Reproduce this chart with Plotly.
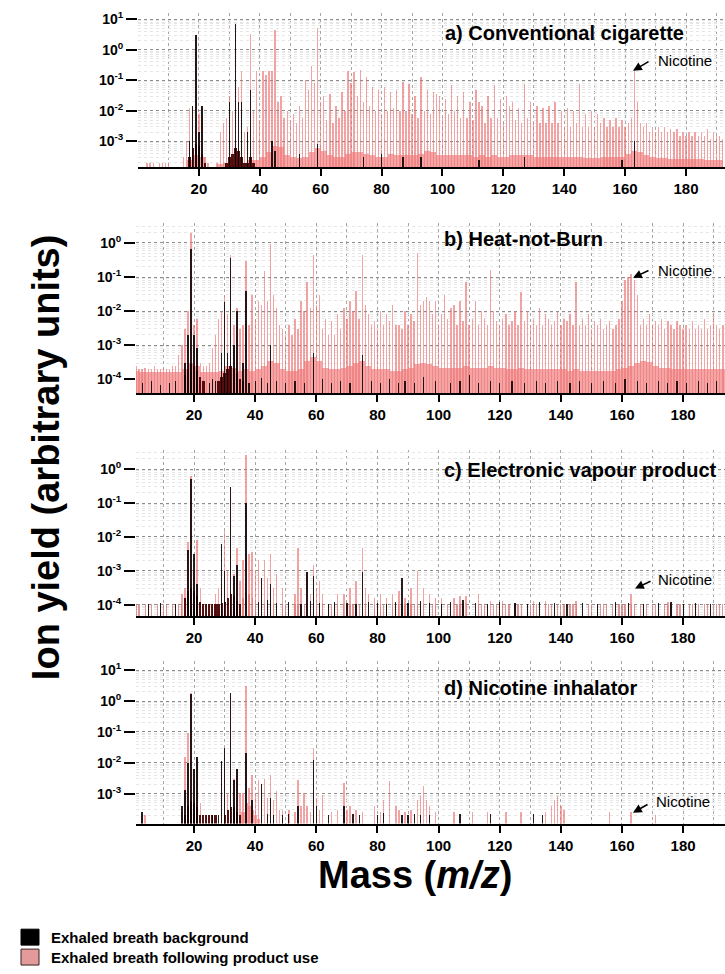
import plotly.graph_objects as go

# ---------------- DATA (ion yield, arbitrary units) ----------------
# Panel a) Conventional cigarette: product-use spectrum, one value per integer m/z from 1
A_PINK = [
    0, 0, 2e-4, 2e-4, 2e-4, 0, 2e-4, 2e-4, 2e-4, 2e-4,
    0, 0, 0, 0, 3e-4, 1e-3, 0.012, 0.015, 3.0, 0.008,
    0.015, 3e-4, 2e-4, 0, 0, 2e-4, 2e-3, 4e-3, 6e-3, 0.03,
    0.01, 6.5, 0.06, 0.2, 2e-3, 3e-3, 3.2, 0.01, 0.2, 0.005,
    0.2, 0.15, 0.2, 0.2, 4.5, 0.02, 0.03, 0.006, 0.01, 0.005,
    0.008, 0.004, 0.015, 0.006, 0.1, 0.05, 0.3, 0.08, 5.0, 0.02,
    0.03, 0.005, 0.035, 0.004, 0.015, 0.006, 0.04, 0.01, 0.2, 0.08,
    0.18, 0.03, 0.22, 0.02, 0.13, 0.015, 0.06, 0.01, 0.05, 0.008,
    0.06, 0.01, 0.04, 0.012, 0.05, 0.01, 0.09, 0.01, 0.075, 0.008,
    0.03, 0.006, 0.125, 0.01, 0.05, 0.008, 0.04, 0.035, 0.03, 0.006,
    0.025, 0.008, 0.07, 0.01, 0.03, 0.006, 0.04, 0.006, 0.02, 0.005,
    0.05, 0.02, 0.015, 0.004, 0.03, 0.006, 0.07, 0.006, 0.025, 0.004,
    0.03, 0.015, 0.02, 0.005, 0.012, 0.004, 0.075, 0.006, 0.02, 0.004,
    0.015, 0.004, 0.012, 0.004, 0.015, 0.004, 0.02, 0.004, 0.01, 0.003,
    0.012, 0.003, 0.01, 0.004, 0.075, 0.003, 0.008, 0.003, 0.01, 0.003,
    0.008, 0.004, 0.006, 0.003, 0.005, 0.003, 0.006, 0.003, 0.005, 0.003,
    0.004, 0.006, 0.23, 0.02, 0.004, 0.003, 0.004, 0.002, 0.003, 0.002,
    0.003, 0.002, 0.003, 0.002, 0.0025, 0.002, 0.0025, 0.0015, 0.002, 0.0015,
    0.002, 0.0015, 0.002, 0.0015, 0.002, 0.0015, 0.0025, 0.0012, 0.002, 0.0015,
    0.0015, 0.0012,
]
# unresolved product-use background, 2-m/z bins starting at m/z 0
A_FLOOR = [
    0, 0, 0, 0, 0, 0, 0, 0,
    2.5e-4, 3.5e-4, 3e-4, 0, 0, 1.8e-4, 2e-4, 2.5e-4, 3e-4, 2e-4, 2.5e-4, 2.5e-4,
    3e-4, 4.5e-4, 7e-4, 6.5e-4, 3.5e-4, 3e-4, 2.8e-4, 3e-4, 4.5e-4, 6e-4,
    5e-4, 3.5e-4, 3e-4, 3e-4, 4e-4, 4.5e-4, 4.5e-4, 4e-4, 3.5e-4, 3e-4,
    3e-4, 4e-4, 3.5e-4, 3.5e-4, 3.5e-4, 3.5e-4, 4e-4, 5e-4, 4.5e-4, 3.5e-4,
    3.5e-4, 3.5e-4, 3.5e-4, 3.5e-4, 3.5e-4, 3e-4, 3.5e-4, 3e-4, 3.5e-4, 3e-4,
    3e-4, 3.5e-4, 3.5e-4, 3.5e-4, 3.5e-4, 3e-4, 3e-4, 3e-4, 3e-4, 3e-4,
    3e-4, 3e-4, 3e-4, 2.8e-4, 2.8e-4, 2.8e-4, 3e-4, 3e-4, 3e-4, 3.2e-4,
    4e-4, 5e-4, 4.5e-4, 3.5e-4, 3e-4, 2.8e-4, 2.8e-4, 2.7e-4, 2.7e-4, 2.6e-4,
    2.6e-4, 2.6e-4, 2.6e-4, 2.5e-4, 2.5e-4, 2.5e-4,
]
A_BLACK_MZ = [17, 18, 19, 20, 21, 30, 32, 33, 34, 36, 37, 44, 45, 53, 59, 74, 80, 87, 93, 112, 127, 159, 163]
A_BLACK = [1e-3, 0.015, 3.0, 2e-3, 0.015, 0.02, 7.0, 0.02, 0.02, 2e-3, 0.05, 1e-3, 5e-4, 4e-4, 8e-4,
           3e-4, 4e-4, 3e-4, 3e-4, 2.5e-4, 3e-4, 2.5e-4, 1e-3]
A_BLACK_FLOOR_MZ = [17, 18, 19, 20, 21, 22, 29, 30, 31, 32, 33, 34, 35, 36, 37, 38]
A_BLACK_FLOOR = [3e-4, 6e-4, 8e-4, 7e-4, 4e-4, 2e-4, 2e-4, 3e-4, 4e-4, 6e-4, 5e-4, 3e-4, 2e-4, 2e-4, 3e-4, 2e-4]

# Panel b) Heat-not-Burn
B_PINK = [
    2.5e-4, 2e-4, 2e-4, 2.2e-4, 2e-4, 2e-4, 2.5e-4, 2e-4, 2e-4, 2.2e-4,
    2e-4, 2e-4, 2.5e-4, 2.5e-4, 5e-4, 1e-3, 3e-3, 0.01, 2.0, 0.004,
    0.006, 3e-4, 2.5e-4, 2.5e-4, 3e-4, 8e-4, 0.002, 0.006, 0.01, 0.03,
    0.008, 0.45, 0.004, 0.012, 0.003, 0.004, 0.3, 0.004, 0.03, 0.006,
    0.02, 0.015, 0.15, 0.02, 0.9, 0.03, 0.012, 0.004, 0.003, 0.002,
    0.004, 0.002, 0.006, 0.003, 0.02, 0.01, 0.07, 0.012, 0.45, 0.015,
    0.03, 0.003, 0.006, 0.002, 0.005, 0.002, 0.008, 0.003, 0.012, 0.006,
    0.02, 0.01, 0.04, 0.006, 0.45, 0.015, 0.008, 0.004, 0.005, 0.003,
    0.01, 0.004, 0.008, 0.005, 0.015, 0.004, 0.004, 0.003, 0.01, 0.004,
    0.008, 0.005, 0.5, 0.015, 0.02, 0.025, 0.02, 0.008, 0.02, 0.004,
    0.008, 0.03, 0.006, 0.012, 0.015, 0.004, 0.02, 0.005, 0.07, 0.004,
    0.006, 0.02, 0.004, 0.01, 0.006, 0.004, 0.16, 0.01, 0.005, 0.004,
    0.006, 0.008, 0.004, 0.005, 0.01, 0.004, 0.035, 0.005, 0.01, 0.004,
    0.006, 0.004, 0.012, 0.004, 0.008, 0.006, 0.004, 0.005, 0.01, 0.004,
    0.006, 0.005, 0.008, 0.004, 0.07, 0.004, 0.006, 0.004, 0.008, 0.003,
    0.005, 0.004, 0.006, 0.003, 0.004, 0.005, 0.003, 0.004, 0.006, 0.02,
    0.08, 0.1, 0.12, 0.08, 0.03, 0.004, 0.006, 0.004, 0.008, 0.004,
    0.005, 0.004, 0.006, 0.003, 0.005, 0.004, 0.003, 0.005, 0.004, 0.003,
    0.004, 0.003, 0.005, 0.003, 0.004, 0.003, 0.006, 0.003, 0.004, 0.008,
    0.004, 0.003, 0.004,
]
B_FLOOR = [
    1.8e-4, 1.6e-4, 1.6e-4, 1.6e-4, 1.6e-4, 1.6e-4, 1.6e-4, 1.6e-4,
    2e-4, 3e-4, 2.5e-4, 1.6e-4, 1.6e-4, 1.6e-4, 1.8e-4, 2.5e-4, 2.2e-4, 1.8e-4, 2e-4, 1.8e-4,
    2e-4, 2.5e-4, 3.5e-4, 3e-4, 2e-4, 1.8e-4, 1.8e-4, 2e-4, 3.5e-4, 4.5e-4,
    3.5e-4, 2.2e-4, 2e-4, 2e-4, 2.2e-4, 2.5e-4, 3e-4, 3.5e-4, 2.5e-4, 2e-4,
    2e-4, 2e-4, 1.8e-4, 1.8e-4, 2e-4, 2.2e-4, 2.8e-4, 3e-4, 2.8e-4, 2.5e-4,
    2.2e-4, 2.2e-4, 2.2e-4, 2.2e-4, 2.5e-4, 2.2e-4, 2.2e-4, 2.2e-4, 2.5e-4, 2.2e-4,
    2.2e-4, 2e-4, 2e-4, 2.2e-4, 2e-4, 2e-4, 2e-4, 2e-4, 2e-4, 2e-4,
    2e-4, 1.8e-4, 2e-4, 1.8e-4, 1.8e-4, 1.8e-4, 1.8e-4, 1.8e-4, 1.8e-4, 2e-4,
    2.2e-4, 2.5e-4, 3e-4, 3.5e-4, 3.2e-4, 2.5e-4, 2.2e-4, 2.2e-4, 2e-4, 2e-4,
    2e-4, 2e-4, 2e-4, 2e-4, 2e-4, 2e-4, 2e-4,
]
B_BLACK_MZ = [17, 18, 19, 20, 21, 29, 30, 31, 32, 33, 34, 36, 37, 45, 59, 75]
B_BLACK = [3e-4, 2e-3, 0.65, 2e-3, 8e-4, 6e-4, 0.018, 6e-4, 0.35, 1e-3, 0.01, 3e-4, 0.04, 1e-3, 6e-4, 5e-4]
B_BLACK_FLOOR_MZ = [17, 18, 19, 20, 21, 22, 23, 28, 29, 30, 31, 32, 33, 34, 35, 36]
B_BLACK_FLOOR = [1.3e-4, 2e-4, 2.8e-4, 2.5e-4, 1.8e-4, 1.2e-4, 9e-5, 9e-5, 1.2e-4, 1.5e-4, 2e-4, 2.5e-4,
                 2e-4, 1.5e-4, 1e-4, 9e-5]
B_BLACK_COMB_MZ = [3, 6, 9, 12, 14, 25, 26, 27, 38, 40, 42, 44, 47, 50, 53, 56, 62, 65, 68, 71, 78, 81,
                   84, 87, 89, 92, 95, 99, 104, 107, 110, 113, 117, 120, 124, 128, 132, 135, 139, 143,
                   146, 150, 154, 158, 161, 165, 168, 172, 175, 178, 181, 185, 188, 191]
B_BLACK_COMB = [8e-5, 9e-5, 7e-5, 8e-5, 9e-5, 8e-5, 1e-4, 9e-5, 8e-5, 9e-5, 1.1e-4, 8e-5, 9e-5, 8e-5,
                9e-5, 8e-5, 1e-4, 8e-5, 9e-5, 8e-5, 9e-5, 8e-5, 1e-4, 8e-5, 9e-5, 8e-5, 1.2e-4, 9e-5,
                8e-5, 9e-5, 1.3e-4, 8e-5, 9e-5, 8e-5, 9e-5, 8e-5, 9e-5, 8e-5, 9e-5, 8e-5, 9e-5, 8e-5,
                9e-5, 8e-5, 1e-4, 9e-5, 8e-5, 9e-5, 8e-5, 9e-5, 8e-5, 9e-5, 8e-5, 9e-5]

# Panel c) Electronic vapour product
C_PINK_MZ = [16, 17, 18, 19, 20, 21, 22,
             27, 28, 29, 30, 31, 32, 33, 34, 35, 36, 37, 38, 39, 40,
             41, 42, 43, 44, 45, 46, 47,
             49, 53, 54, 55, 57, 58, 59, 60, 61, 62,
             67, 69, 71, 73, 75, 76, 77, 79,
             81, 83, 85, 87, 89, 91, 93, 95, 97, 99,
             101, 105, 107, 109, 113, 117, 121,
             131, 135, 145, 163, 175]
C_PINK = [2e-4, 3e-4, 0.007, 0.6, 1e-3, 0.008, 3e-4,
          2e-4, 3e-4, 4e-4, 0.015, 1e-3, 0.3, 8e-4, 4.5e-3, 5e-4, 2e-3, 2.5, 3e-3, 3.6e-3, 1e-3,
          2e-3, 6e-4, 2e-3, 6e-4, 3e-3, 3e-4, 8e-4,
          3e-4, 2e-4, 4.5e-3, 3e-4, 8.5e-4, 2e-4, 1.5e-3, 3e-4, 5e-4, 2e-4,
          2e-4, 2e-4, 3e-4, 5e-4, 4.5e-3, 3e-4, 2e-4, 1.5e-4,
          2e-4, 1.5e-4, 2e-4, 2.5e-4, 1.5e-4, 3e-4, 1e-3, 3e-4, 2e-4, 1.5e-4,
          1.5e-4, 1.5e-4, 1.8e-4, 1.8e-4, 2e-4, 1.3e-4, 1.3e-4,
          1.3e-4, 1.3e-4, 1.3e-4, 2e-4, 1.2e-4]
C_FLOOR = [
    1e-4, 1e-4, 0, 1e-4, 1e-4, 1e-4, 0, 1e-4, 1e-4, 1e-4,
    1e-4, 0, 1e-4, 1e-4, 1e-4, 1e-4, 1.2e-4, 1.5e-4, 2e-4, 1.5e-4,
    1.2e-4, 1e-4, 1e-4, 1e-4, 1e-4, 1e-4, 1e-4, 1e-4, 1e-4, 1.1e-4,
    1.2e-4, 1.3e-4, 1.2e-4, 1.1e-4, 1e-4, 1.5e-4, 2.3e-4, 2e-4, 1.5e-4, 1.1e-4,
    1e-4, 1e-4, 1e-4, 1e-4, 1.1e-4, 1e-4, 1e-4, 0, 1e-4, 1e-4,
    1e-4, 0, 1e-4, 1e-4, 1e-4, 1e-4, 1e-4, 1e-4, 1.1e-4, 1e-4,
    1e-4, 1e-4, 0, 1e-4, 1e-4, 1e-4, 1e-4, 0, 1e-4, 1e-4,
    1e-4, 1e-4, 1e-4, 1e-4, 1.1e-4, 1e-4, 1e-4, 0, 1e-4, 1e-4,
    1e-4, 1e-4, 1e-4, 0, 1e-4, 1e-4, 1e-4, 1e-4, 1e-4, 0,
    1e-4, 1e-4, 1e-4, 1e-4, 1e-4, 0, 1e-4, 1e-4, 1e-4, 0,
    1e-4, 0, 1e-4, 1e-4, 0, 1e-4, 1e-4, 1e-4, 1e-4, 0,
    0, 0, 1e-4, 1e-4, 1e-4, 1e-4, 0, 1e-4, 1e-4, 1e-4,
    1e-4, 1e-4, 1e-4, 0, 1e-4, 1e-4, 1e-4, 0, 1e-4, 1e-4,
    1e-4, 1e-4, 0, 0, 1e-4, 1e-4, 1e-4, 0, 1e-4, 1e-4,
    1e-4, 0, 1e-4, 1e-4, 1e-4, 0, 0, 0, 1e-4, 1e-4,
    0, 1e-4, 1e-4, 1e-4, 1e-4, 0, 1e-4, 1e-4, 1e-4, 1e-4,
    1e-4, 1e-4, 1e-4, 1e-4, 0, 1e-4, 1e-4, 1e-4, 0, 1e-4,
    1e-4, 1e-4, 0, 1e-4, 1e-4, 1e-4, 0, 1e-4, 1e-4, 1e-4,
    0, 1e-4, 1e-4, 1e-4, 1e-4, 0, 1e-4, 1e-4, 1e-4, 1e-4,
    1e-4, 1e-4, 1e-4,
]
C_BLACK_MZ = [18, 19, 20, 21, 29, 30, 32, 33, 34, 37, 42, 45, 57, 59, 75, 88]
C_BLACK = [4e-3, 0.5, 3e-3, 4e-4, 6e-3, 1e-3, 0.3, 7e-4, 1.5e-3, 0.1, 6e-4, 4e-4, 9e-4, 7e-4, 9e-4, 6e-4]
C_BLACK_FLOOR_MZ = [17, 18, 19, 20, 21, 22, 23, 24, 25, 26, 27, 28, 29, 30, 31, 32, 33, 34, 35]
C_BLACK_FLOOR = [1.5e-4, 2.5e-4, 3e-4, 2.5e-4, 1.8e-4, 1.2e-4, 1e-4, 1e-4, 1e-4, 1e-4, 1e-4, 1e-4,
                 1.1e-4, 1.2e-4, 1.5e-4, 2e-4, 1.8e-4, 1.3e-4, 1e-4]
C_BLACK_COMB_MZ = [5, 9, 14, 41, 44, 47, 51, 55, 58, 61, 64, 66, 70, 73, 77, 80, 83, 86, 90, 94, 97,
                   101, 104, 108, 112, 116, 120, 125, 129, 133, 138, 142, 147, 152, 158, 162, 167,
                   172, 176, 180, 184, 189]
C_BLACK_COMB = [1e-4, 1.1e-4, 1e-4, 1.2e-4, 1.4e-4, 1.1e-4, 1.2e-4, 1e-4, 1.3e-4, 1.1e-4, 1e-4,
                1.2e-4, 1.1e-4, 1e-4, 1.2e-4, 1.1e-4, 1e-4, 1.2e-4, 1.1e-4, 1.3e-4, 1.1e-4, 1e-4,
                1.2e-4, 1.4e-4, 1.1e-4, 1e-4, 1.2e-4, 1.1e-4, 1e-4, 1.2e-4, 1.1e-4, 1e-4, 1.1e-4,
                1e-4, 1.2e-4, 1.1e-4, 1e-4, 1.1e-4, 1.2e-4, 1e-4, 1.1e-4, 1e-4]

# Panel d) Nicotine inhalator
D_PINK_MZ = [3, 4,
             16, 17, 18, 19, 20, 21, 22,
             29, 30, 31, 32, 33, 34, 35, 36, 37, 38, 39, 40, 41, 42, 43, 44, 45, 46, 47, 48, 49,
             51,
             53, 54, 55, 56, 57, 58, 59, 60, 61, 62,
             65, 67, 69, 70, 71, 73, 75,
             79, 81, 82, 84, 86, 87, 89,
             91, 93, 94, 95, 96, 97, 99,
             105, 111, 116, 122, 127, 135,
             137, 138, 139, 140, 141,
             156, 163, 171]
D_PINK = [2e-4, 2e-4,
          2.5e-4, 0.015, 0.09, 1.8, 6e-3, 0.015, 5e-4,
          0.01, 0.03, 1e-3, 1.8, 3e-3, 6e-3, 1e-3, 1e-3, 3.0, 1.5e-3, 4e-3, 1e-3, 2.8e-3, 2e-3, 3e-3,
          7e-4, 4e-3, 6e-4, 1.2e-3, 3e-4, 3e-4,
          3e-4,
          2.5e-4, 2.7e-3, 4e-4, 1e-3, 4e-4, 2.5e-4, 0.03, 7e-4, 3e-4, 9e-4,
          2.5e-4, 3e-4, 2.2e-3, 3e-4, 4e-4, 3e-4, 2.5e-4,
          4e-4, 2.5e-4, 6e-4, 2.6e-3, 4e-4, 3e-4, 2.5e-4,
          3e-4, 6e-4, 8e-4, 1.8e-3, 6e-4, 4e-4, 2.5e-4,
          2.5e-4, 2.5e-4, 2.5e-4, 2.5e-4, 2.5e-4, 2.5e-4,
          4e-4, 6e-4, 8e-4, 4e-4, 3e-4,
          2.5e-4, 2.5e-4, 2e-4]
D_PINK_FLOOR_MZ = [36, 37, 38, 39, 40, 41]
D_PINK_FLOOR = [2.5e-4, 5e-4, 4e-4, 3e-4, 2e-4, 1.5e-4]
D_BLACK_MZ = [3, 16, 17, 18, 19, 20, 21, 29, 30, 32, 33, 34, 37, 39, 42, 45, 54, 59, 60, 69]
D_BLACK = [2.5e-4, 4e-4, 1.3e-3, 0.01, 1.7, 6e-3, 0.015, 0.011, 0.03, 1.8, 2.7e-3, 6e-3, 0.02, 6e-4,
           2e-3, 7e-4, 4e-4, 0.012, 4e-4, 4e-4]
D_BLACK_FLOOR_MZ = [17, 18, 19, 20, 21, 22, 23, 24, 25, 26, 27, 30, 31, 32, 33, 34, 35]
D_BLACK_FLOOR = [2e-4, 4e-4, 5.5e-4, 5e-4, 3.5e-4, 2e-4, 2e-4, 2e-4, 2e-4, 2e-4, 2e-4, 2e-4, 3e-4,
                 3.7e-4, 3.5e-4, 2.5e-4, 2e-4]
D_BLACK_COMB_MZ = [26, 28, 44, 46, 49, 51, 64, 72, 74, 80, 82, 88, 90, 92, 94, 97, 107, 117, 131, 134]
D_BLACK_COMB = [2e-4, 2e-4, 2.2e-4, 2e-4, 2e-4, 2.2e-4, 2e-4, 2.2e-4, 2e-4, 2e-4, 2.3e-4, 2e-4, 2e-4,
                2.2e-4, 2e-4, 2e-4, 2.2e-4, 2.2e-4, 2.2e-4, 2e-4]

X_TICKS = [20, 40, 60, 80, 100, 120, 140, 160, 180]
X_MINOR = [10, 30, 50, 70, 90, 110, 130, 150, 170, 190]
TITLES = ["a) Conventional cigarette", "b) Heat-not-Burn", "c) Electronic vapour product", "d) Nicotine inhalator"]

# ---------------- FIGURE ----------------
W, H = 725, 974
FONT = "Liberation Sans, Arial, sans-serif"
PINK_PEAK = "rgba(235,115,115,0.65)"
PINK_FLOOR = "#F5A5A5"
PINK_COMB = "rgba(205,120,120,0.75)"
BLACK_PEAK = "rgba(10,0,0,0.88)"
BLACK_FLOOR = "rgba(70,0,0,0.92)"


def fx(p):
    return p / W


def fy(p):
    return 1 - p / H


fig = go.Figure()


def add_bars(xs, ys, width, color, n):
    pts = [(m, v) for m, v in zip(xs, ys) if v > 0]
    fig.add_trace(go.Bar(
        x=[p[0] for p in pts], y=[p[1] for p in pts], width=width,
        marker=dict(color=color, line=dict(width=0)),
        xaxis="x" + n, yaxis="y" + n, showlegend=False, hoverinfo="skip"))


def bins(vals):
    return [2 * i + 1 for i in range(len(vals))]


def ints(vals):
    return list(range(1, len(vals) + 1))


# panel a
add_bars(bins(A_FLOOR), A_FLOOR, 2, PINK_FLOOR, "")
add_bars(ints(A_PINK), A_PINK, 0.45, PINK_PEAK, "")
add_bars(A_BLACK_FLOOR_MZ, A_BLACK_FLOOR, 0.85, BLACK_FLOOR, "")
add_bars(A_BLACK_MZ, A_BLACK, 0.45, BLACK_PEAK, "")
# panel b
add_bars(bins(B_FLOOR), B_FLOOR, 2, PINK_FLOOR, "2")
add_bars(ints(B_PINK), B_PINK, 0.45, PINK_PEAK, "2")
add_bars(B_BLACK_FLOOR_MZ, B_BLACK_FLOOR, 0.85, BLACK_FLOOR, "2")
add_bars(B_BLACK_COMB_MZ, B_BLACK_COMB, 0.4, BLACK_PEAK, "2")
add_bars(B_BLACK_MZ, B_BLACK, 0.45, BLACK_PEAK, "2")
# panel c
add_bars(ints(C_FLOOR), C_FLOOR, 0.4, PINK_COMB, "3")
add_bars(C_PINK_MZ, C_PINK, 0.45, PINK_PEAK, "3")
add_bars(C_BLACK_FLOOR_MZ, C_BLACK_FLOOR, 0.7, BLACK_FLOOR, "3")
add_bars(C_BLACK_COMB_MZ, C_BLACK_COMB, 0.4, BLACK_PEAK, "3")
add_bars(C_BLACK_MZ, C_BLACK, 0.45, BLACK_PEAK, "3")
# panel d
add_bars(D_PINK_FLOOR_MZ, D_PINK_FLOOR, 1.0, PINK_FLOOR, "4")
add_bars(D_PINK_MZ, D_PINK, 0.45, PINK_PEAK, "4")
add_bars(D_BLACK_FLOOR_MZ, D_BLACK_FLOOR, 0.7, BLACK_FLOOR, "4")
add_bars(D_BLACK_COMB_MZ, D_BLACK_COMB, 0.4, BLACK_PEAK, "4")
add_bars(D_BLACK_MZ, D_BLACK, 0.45, BLACK_PEAK, "4")

# axes geometry (pixels): x-domain, x-range, y-domain, log y-range, decade ticks
PANEL_AX = [
    dict(xd=(138, 725), xr=[0, 192.8], yd=(9, 164), yr=[-3.846, 1.2], dec=[1, 0, -1, -2, -3]),
    dict(xd=(136, 725), xr=[1.0, 193.7], yd=(220, 391), yr=[-4.41, 0.58], dec=[0, -1, -2, -3, -4]),
    dict(xd=(136, 725), xr=[1.0, 193.7], yd=(448, 615), yr=[-4.35, 0.56], dec=[0, -1, -2, -3, -4]),
    dict(xd=(136, 725), xr=[1.0, 193.7], yd=(660, 823), yr=[-3.97, 1.29], dec=[1, 0, -1, -2, -3]),
]
layout = dict(
    width=W, height=H, margin=dict(l=0, r=0, t=0, b=0),
    paper_bgcolor="white", plot_bgcolor="white",
    barmode="overlay", bargap=0, showlegend=False,
    font=dict(family=FONT, color="black"),
)
for i, p in enumerate(PANEL_AX):
    n = "" if i == 0 else str(i + 1)
    layout["xaxis" + n] = dict(
        domain=[fx(p["xd"][0]), fx(p["xd"][1])], range=p["xr"], anchor="y" + n,
        tickmode="array", tickvals=X_TICKS, ticks="outside", ticklen=7, tickwidth=2, tickcolor="black",
        showline=True, linecolor="black", linewidth=2, zeroline=False,
        showgrid=True, gridcolor="#a6a6a6", griddash="dot", gridwidth=1,
        minor=dict(tickvals=X_MINOR, showgrid=True, gridcolor="#a6a6a6", griddash="dot", ticks=""),
        tickfont=dict(family=FONT, size=15, color="black", weight="bold"),
    )
    layout["yaxis" + n] = dict(
        domain=[fy(p["yd"][1]), fy(p["yd"][0])], range=p["yr"], type="log", anchor="x" + n,
        tickmode="array", tickvals=[10.0 ** d for d in p["dec"]],
        ticktext=["10<sup>%d</sup>" % d for d in p["dec"]],
        ticks="outside", ticklen=11, tickwidth=2, tickcolor="black",
        showline=False, zeroline=False,
        showgrid=True, gridcolor="#8c8c8c", griddash="dot", gridwidth=1,
        minor=dict(dtick="D1", showgrid=True, gridcolor="#e6e6e6", gridwidth=1, ticks=""),
        tickfont=dict(family=FONT, size=14, color="black", weight="bold"),
    )

ann = []
title_pos = [(443, 29), (442, 236), (442, 468), (442, 687)]
for t, (x, y) in zip(TITLES, title_pos):
    ann.append(dict(text="<b>%s</b>" % t, x=fx(x), y=fy(y), xref="paper", yref="paper",
                    xanchor="left", yanchor="middle", showarrow=False,
                    font=dict(family=FONT, size=20, color="black")))
# Nicotine labels: (head x, head y, tail x, tail y, text cx, text cy)
nic = [(633, 67, 650, 57, 685, 57), (633, 275, 650, 267, 685, 268),
       (635, 587, 652, 579, 685, 578), (633, 812, 649, 803, 683, 801)]
for hx, hy, tx, ty, cx, cy in nic:
    ann.append(dict(text="", x=fx(hx), y=fy(hy), xref="paper", yref="paper",
                    ax=tx - hx, ay=ty - hy, showarrow=True, arrowhead=2, arrowsize=1.1,
                    arrowwidth=1.6, arrowcolor="black"))
    ann.append(dict(text="Nicotine", x=fx(cx), y=fy(cy), xref="paper", yref="paper",
                    showarrow=False, xanchor="center", yanchor="middle",
                    font=dict(family=FONT, size=15, color="black")))
ann.append(dict(text="<b>Ion yield (arbitrary units)</b>", x=fx(46), y=fy(455), xref="paper", yref="paper",
                textangle=-90, showarrow=False, xanchor="center", yanchor="middle",
                font=dict(family=FONT, size=38, color="black")))
ann.append(dict(text="<b>Mass (<i>m/z</i>)</b>", x=fx(415), y=fy(875), xref="paper", yref="paper",
                showarrow=False, xanchor="center", yanchor="middle",
                font=dict(family=FONT, size=38, color="black")))
LEGEND = ["Exhaled breath background", "Exhaled breath following product use"]
for txt, y in zip(LEGEND, [937, 957]):
    ann.append(dict(text="<b>%s</b>" % txt, x=fx(49), y=fy(y), xref="paper", yref="paper",
                    showarrow=False, xanchor="left", yanchor="middle",
                    font=dict(family=FONT, size=15, color="black")))
shapes = [
    dict(type="rect", xref="paper", yref="paper", x0=fx(21), x1=fx(39), y0=fy(945), y1=fy(929),
         fillcolor="black", line=dict(color="black", width=1)),
    dict(type="rect", xref="paper", yref="paper", x0=fx(21), x1=fx(39), y0=fy(965), y1=fy(949),
         fillcolor="#E29A9A", line=dict(color="#3a2020", width=1)),
]
layout["annotations"] = ann
layout["shapes"] = shapes
fig.update_layout(**layout)
fig.write_html("out.html", config={"displayModeBar": False},
               post_script="document.body.style.margin='0';document.body.style.overflow='hidden';")
